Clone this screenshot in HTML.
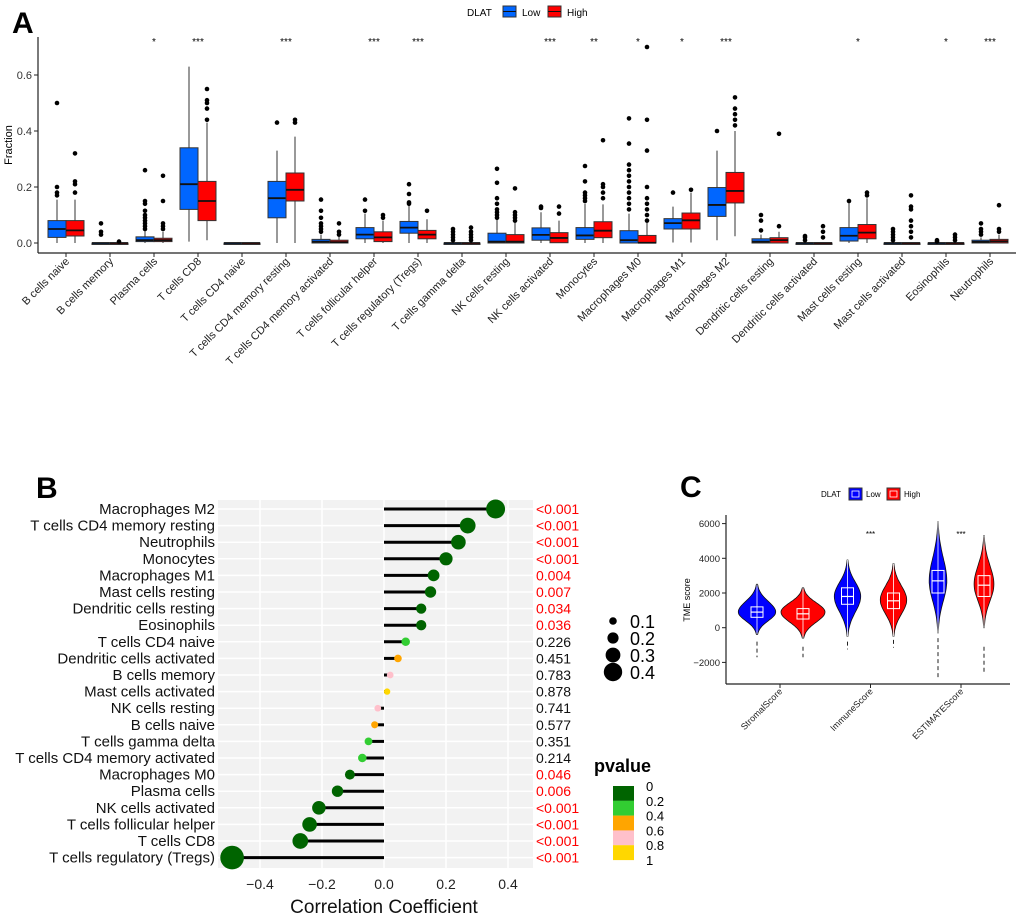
<!DOCTYPE html>
<html><head><meta charset="utf-8"><style>
body{margin:0;background:#fff}
svg{display:block;font-family:"Liberation Sans",Arial,sans-serif}
</style></head><body>
<svg id="fig" width="1020" height="917" viewBox="0 0 1020 917" xmlns="http://www.w3.org/2000/svg">
<g id="pa"></g>
<g id="pb"></g>
<g id="pc"></g>
</svg>
<script>
// ---------- Panel A data ----------
const cellTypes = ["B cells naive","B cells memory","Plasma cells","T cells CD8","T cells CD4 naive","T cells CD4 memory resting","T cells CD4 memory activated","T cells follicular helper","T cells regulatory (Tregs)","T cells gamma delta","NK cells resting","NK cells activated","Monocytes","Macrophages M0","Macrophages M1","Macrophages M2","Dendritic cells resting","Dendritic cells activated","Mast cells resting","Mast cells activated","Eosinophils","Neutrophils"];
const sigMarks = ["","","*","***","","***","","***","***","","","***","**","*","*","***","","","*","","*","***"];
// [whiskerLow, q1, median, q3, whiskerHigh]
const lowBoxes = [[0,.02,.05,.08,.155],[0,0,0,0,0],[0,.005,.01,.022,.045],[.005,.12,.21,.34,.63],[0,0,0,0,0],[0,.09,.16,.22,.33],[0,0,.005,.013,.03],[0,.015,.03,.055,.105],[0,.035,.055,.077,.135],[0,0,0,0,0],[0,0,.005,.035,.085],[0,.01,.029,.054,.11],[0,.013,.027,.055,.14],[0,0,.01,.044,.105],[.002,.05,.071,.087,.13],[.01,.095,.136,.198,.33],[0,0,.005,.015,.03],[0,0,0,0,0],[0,.007,.026,.055,.146],[0,0,0,0,0],[0,0,0,0,0],[0,0,.004,.01,.02]];
const highBoxes = [[0,.025,.045,.08,.155],[0,0,0,0,0],[0,.005,.01,.017,.04],[.01,.08,.15,.22,.43],[0,0,0,0,0],[0,.15,.19,.25,.38],[0,0,.003,.01,.025],[0,.005,.02,.04,.08],[0,.015,.03,.045,.085],[0,0,0,0,0],[0,0,.005,.03,.075],[0,.001,.018,.037,.08],[0,.019,.044,.076,.138],[0,0,.001,.027,.075],[.002,.05,.081,.107,.18],[.024,.143,.186,.252,.4],[0,0,.01,.019,.04],[0,0,0,0,0],[0,.015,.037,.066,.16],[0,0,0,0,0],[0,0,0,0,0],[0,0,.006,.013,.03]];
const lowOutliers = [[.17,.18,.2,.5],[.03,.04,.07],[.05,.06,.07,.08,.09,.1,.115,.14,.15,.26],[],[],[.43],[.04,.05,.06,.07,.09,.115,.155],[.115,.155],[.14,.145,.175,.21],[.01,.02,.03,.04,.05],[.09,.1,.11,.12,.14,.16,.215,.265],[.125,.13],[.15,.16,.17,.18,.22,.275],[.12,.14,.16,.18,.2,.22,.24,.26,.28,.355,.445],[.18],[.4],[.045,.08,.1],[.01,.02,.025],[.15],[.01,.02,.03,.04,.05],[.005,.01],[.03,.04,.05,.07]];
const highOutliers = [[.18,.21,.22,.32],[.005],[.05,.06,.07,.15,.24],[.44,.48,.5,.51,.55],[],[.43,.44],[.03,.04,.07],[.09,.1],[.115],[.01,.02,.03,.04,.055],[.08,.09,.1,.11,.195],[.105,.13],[.16,.18,.2,.21,.367],[.08,.1,.12,.14,.16,.2,.33,.44,.7],[.19],[.42,.44,.46,.48,.52],[.06,.39],[.02,.04,.06],[.17,.18],[.02,.04,.06,.08,.12,.13,.17],[.01,.02,.03],[.04,.05,.135]];
const yTicksA = [0,0.2,0.4,0.6];

// ---------- Panel B data ----------
const corrNames = ["Macrophages M2","T cells CD4 memory resting","Neutrophils","Monocytes","Macrophages M1","Mast cells resting","Dendritic cells resting","Eosinophils","T cells CD4 naive","Dendritic cells activated","B cells memory","Mast cells activated","NK cells resting","B cells naive","T cells gamma delta","T cells CD4 memory activated","Macrophages M0","Plasma cells","NK cells activated","T cells follicular helper","T cells CD8","T cells regulatory (Tregs)"];
const corrValues = [.36,.27,.24,.20,.16,.15,.12,.12,.07,.045,.02,.01,-.02,-.03,-.05,-.07,-.11,-.15,-.21,-.24,-.27,-.49];
const pValues = [0.0005,0.0005,0.0005,0.0005,.004,.007,.034,.036,.226,.451,.783,.878,.741,.577,.351,.214,.046,.006,.0005,.0005,.0005,.0005];
const pLabels = ["<0.001","<0.001","<0.001","<0.001","0.004","0.007","0.034","0.036","0.226","0.451","0.783","0.878","0.741","0.577","0.351","0.214","0.046","0.006","<0.001","<0.001","<0.001","<0.001"];
const xTicksB = [-0.4,-0.2,0.0,0.2,0.4];
const sizeLegend = [0.1,0.2,0.3,0.4];
const pLegendLabels = ["0","0.2","0.4","0.6","0.8","1"];

// ---------- Panel C data ----------
const scoreNames = ["StromalScore","ImmuneScore","ESTIMATEScore"];
const scoreSig = ["","***","***"];
// [min, q1, median, q3, max]
const cLowStats = [[-400,600,900,1200,2500],[-500,1350,1800,2300,3900],[-300,2000,2700,3300,6100]];
const cHighStats = [[-600,500,800,1100,2300],[-500,1100,1550,2000,3700],[0,1800,2450,3000,5300]];
const cLowPeak = [900,1800,2700];
const cHighPeak = [900,1600,2500];
const cLowWidth = [0.85,0.6,0.4];
const cHighWidth = [1.0,0.6,0.45];
const cLowTail = [[-800,-1700],[-800,-1250],[-600,-2900]];
const cHighTail = [[-1100,-1700],[-700,-1150],[-1100,-2700]];
const yTicksC = [-2000,0,2000,4000,6000];

const NS="http://www.w3.org/2000/svg";
function el(tag,attrs,parent,text){const e=document.createElementNS(NS,tag);for(const k in attrs)e.setAttribute(k,attrs[k]);if(text!==undefined)e.textContent=text;parent.appendChild(e);return e;}

// ===== Panel A =====
(function(){
const g=document.getElementById('pa');
const yA=v=>243-v*280;
const xA=i=>66+i*44;
const t=el('text',{x:12,y:33,'font-size':30,'font-weight':'bold'},g,'A');


const lg=el('g',{},g);


el('text',{x:467,y:16,'font-size':10},lg,'DLAT');
[['#0066FF','Low',503],['#FF0000','High',548]].forEach(([c,l,x])=>{
 const e=el('g',{},lg);
 
 
 el('rect',{x:x,y:6,width:13,height:11,fill:c,stroke:'#333'},e);
 el('line',{x1:x,x2:x+13,y1:11.5,y2:11.5,stroke:'#111'},e);
 el('text',{x:x+19,y:16,'font-size':10},e,l);
});
el('line',{x1:38,x2:38,y1:37,y2:253,stroke:'#222','stroke-width':1.2},g);
el('line',{x1:38,x2:1016,y1:253,y2:253,stroke:'#222','stroke-width':1.2},g);
yTicksA.forEach(v=>{
 el('line',{x1:34,x2:38,y1:yA(v),y2:yA(v),stroke:'#222'},g);
 const tt=el('text',{x:32,y:yA(v)+4,'font-size':11,'text-anchor':'end',fill:'#333'},g,v.toFixed(1));
 
 
});
const yt=el('text',{x:0,y:0,'font-size':11,'text-anchor':'middle',transform:'translate(12,145) rotate(-90)'},g,'Fraction');


function box(cx,s,outs,col){
 const b=el('g',{},g);
 
 
 el('line',{x1:cx,x2:cx,y1:yA(s[0]),y2:yA(s[4]),stroke:'#333','stroke-width':1},b);
 el('rect',{x:cx-9,y:yA(s[3]),width:18,height:Math.max(yA(s[1])-yA(s[3]),1.5),fill:col,stroke:'#333','stroke-width':1},b);
 el('line',{x1:cx-9,x2:cx+9,y1:yA(s[2]),y2:yA(s[2]),stroke:'#111','stroke-width':1.8},b);
 outs.forEach(o=>el('circle',{cx:cx,cy:yA(o),r:2.3,fill:'#000'},b));
}
cellTypes.forEach((n,i)=>{
 const x=xA(i);
 box(x-9,lowBoxes[i],lowOutliers[i],'#0066FF');
 box(x+9,highBoxes[i],highOutliers[i],'#FF0000');
 el('line',{x1:x,x2:x,y1:253,y2:257,stroke:'#222'},g);
 const lt=el('text',{x:0,y:0,'font-size':11,'text-anchor':'end',fill:'#222',transform:`translate(${x+4},262) rotate(-45)`},g,n);
 
 
 if(sigMarks[i]){const s=el('text',{x:x,y:45,'font-size':10,'text-anchor':'middle'},g,sigMarks[i]);
 
 }
});
})();

// ===== Panel B =====
(function(){
const g=document.getElementById('pb');
const xB=v=>384+v*310;
const rowY=i=>509+i*16.6;
const col=p=>p<0.2?'#006400':p<0.4?'#32CD32':p<0.6?'#FFA500':p<0.8?'#FFC0CB':'#FFD700';
const rad=v=>3+Math.abs(v)*18;
const t=el('text',{x:36,y:498,'font-size':30,'font-weight':'bold'},g,'B');


el('rect',{x:218,y:500,width:315,height:368,fill:'#F2F2F2'},g);
xTicksB.forEach(v=>el('line',{x1:xB(v),x2:xB(v),y1:500,y2:868,stroke:'#fff','stroke-width':1.5},g));
corrNames.forEach((n,i)=>el('line',{x1:218,x2:533,y1:rowY(i),y2:rowY(i),stroke:'#fff','stroke-width':1.5},g));
corrNames.forEach((n,i)=>{
 const y=rowY(i);
 const lab=el('text',{x:215,y:y+5,'font-size':15,'text-anchor':'end',fill:'#111'},g,n);
 
 
 const m=el('g',{},g);
 
 
 el('line',{x1:xB(0),x2:xB(corrValues[i]),y1:y,y2:y,stroke:'#000','stroke-width':3},m);
 el('circle',{cx:xB(corrValues[i]),cy:y,r:rad(corrValues[i]),fill:col(pValues[i])},m);
 const pl=el('text',{x:536,y:y+5,'font-size':14,fill:pValues[i]<0.05?'#FF0000':'#111'},g,pLabels[i]);
 
 
});
xTicksB.forEach(v=>{
 const tt=el('text',{x:xB(v),y:889,'font-size':14,'text-anchor':'middle',fill:'#222'},g,(v<0?'\u2212':'')+Math.abs(v).toFixed(1));
 
 
});
const xt=el('text',{x:384,y:913,'font-size':19,'text-anchor':'middle',fill:'#111'},g,'Correlation Coefficient');


sizeLegend.forEach((v,i)=>{
 const y=621+i*17;
 const e=el('g',{},g);
 
 
 el('circle',{cx:613,cy:y,r:rad(v)-1,fill:'#000'},e);
 el('text',{x:630,y:y+7,'font-size':18},e,String(v));
});
const pt=el('text',{x:594,y:772,'font-size':18,'font-weight':'bold'},g,'pvalue');


const cb=['#006400','#32CD32','#FFA500','#FFC0CB','#FFD700'];
cb.forEach((c,i)=>{const r=el('rect',{x:613,y:786+i*14.8,width:21,height:14.9,fill:c},g);
 
 });
pLegendLabels.forEach((l,i)=>el('text',{x:646,y:791+i*14.8,'font-size':13},g,l));
})();

// ===== Panel C =====
(function(){
const g=document.getElementById('pc');
const yC=v=>627.7-v*0.01735;
const xC=i=>780+i*90.5;
const t=el('text',{x:680,y:497,'font-size':30,'font-weight':'bold'},g,'C');


const lg=el('g',{},g);


el('text',{x:821,y:497,'font-size':8},lg,'DLAT');
[['#0000FF','Low',849],['#FF0000','High',887]].forEach(([c,l,x])=>{
 el('rect',{x:x,y:488,width:13,height:12,fill:c,stroke:'#333'},lg);
 el('rect',{x:x+3,y:491,width:7,height:6,fill:'none',stroke:'#fff','stroke-width':0.8},lg);
 el('text',{x:x+17,y:497,'font-size':8},lg,l);
});
el('line',{x1:726,x2:726,y1:515,y2:684,stroke:'#222','stroke-width':1.2},g);
el('line',{x1:726,x2:1010,y1:684,y2:684,stroke:'#222','stroke-width':1.2},g);
yTicksC.forEach(v=>{
 el('line',{x1:722,x2:726,y1:yC(v),y2:yC(v),stroke:'#222'},g);
 const tt=el('text',{x:720,y:yC(v)+3.5,'font-size':9.5,'text-anchor':'end',fill:'#222'},g,(v<0?'\u2212':'')+Math.abs(v));
 
 
});
const yt=el('text',{x:0,y:0,'font-size':9,'text-anchor':'middle',transform:'translate(690,600) rotate(-90)'},g,'TME score');


function violin(cx,s,peak,w,tail,c){
 const v=el('g',{},g);
 
 
 const N=40,pts=[],maxW=22*w;
 for(let k=0;k<=N;k++){
  const val=s[0]+(s[4]-s[0])*k/N;
  const sd=val<peak?(peak-s[0])/2.6:(s[4]-peak)/2.6;
  const hw=maxW*Math.exp(-0.5*Math.pow((val-peak)/sd,2));
  pts.push([hw,yC(val)]);
 }
 let d='M'+pts.map(p=>(cx+p[0]).toFixed(1)+','+p[1].toFixed(1)).join('L');
 d+='L'+pts.slice().reverse().map(p=>(cx-p[0]).toFixed(1)+','+p[1].toFixed(1)).join('L')+'Z';
 el('path',{d:d,fill:c,stroke:'#111','stroke-width':0.8},v);
 el('line',{x1:cx,x2:cx,y1:yC(s[0]),y2:yC(s[4]),stroke:'#fff','stroke-width':0.8},v);
 el('rect',{x:cx-6,y:yC(s[3]),width:12,height:yC(s[1])-yC(s[3]),fill:'none',stroke:'#fff','stroke-width':1},v);
 el('line',{x1:cx-6,x2:cx+6,y1:yC(s[2]),y2:yC(s[2]),stroke:'#fff','stroke-width':1.2},v);
 el('line',{x1:cx,x2:cx,y1:yC(tail[0]),y2:yC(tail[1]),stroke:'#222','stroke-width':1,'stroke-dasharray':'4,3'},v);
}
scoreNames.forEach((n,i)=>{
 const x=xC(i);
 violin(x-23,cLowStats[i],cLowPeak[i],cLowWidth[i],cLowTail[i],'#0000FF');
 violin(x+23,cHighStats[i],cHighPeak[i],cHighWidth[i],cHighTail[i],'#FF0000');
 el('line',{x1:x,x2:x,y1:684,y2:688,stroke:'#222'},g);
 const lt=el('text',{x:0,y:0,'font-size':9,'text-anchor':'end',fill:'#222',transform:`translate(${x+3},692) rotate(-45)`},g,n);
 
 
 if(scoreSig[i]){const s=el('text',{x:x,y:537,'font-size':8,'text-anchor':'middle'},g,scoreSig[i]);
 
 }
});
})();
</script>
</body></html>
